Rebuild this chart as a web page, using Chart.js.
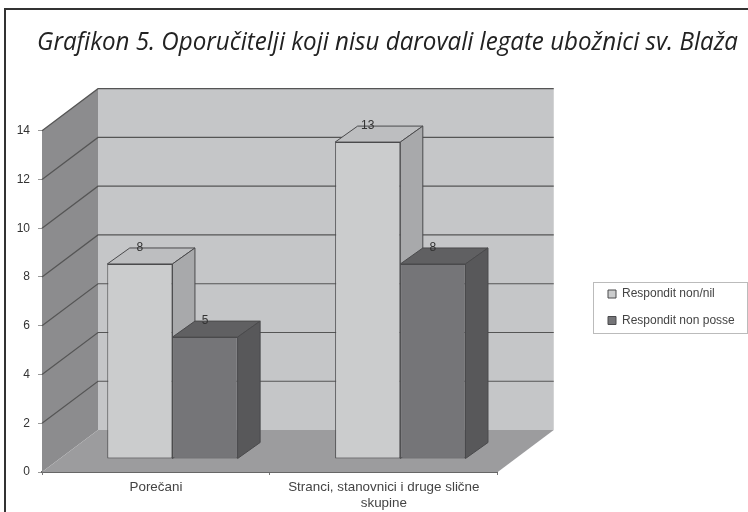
<!DOCTYPE html>
<html>
<head>
<meta charset="utf-8">
<title>Grafikon 5</title>
<script src="https://cdn.jsdelivr.net/npm/chart.js@4"></script>
<style>
  html, body { margin: 0; padding: 0; background: #fff; }
  #wrap { position: relative; width: 748px; height: 512px; overflow: hidden; }
  #frame { position: absolute; left: 4px; top: 8px; width: 760px; height: 520px; border-left: 2px solid #333; border-top: 2px solid #333; }
  canvas { position: absolute; left: 0; top: 0; }
</style>
</head>
<body>
<div id="wrap">
  <div id="frame"></div>
  <canvas id="myChart" width="748" height="512"></canvas>
</div>
<script>
const titleText = 'Grafikon 5. Oporučitelji koji nisu darovali legate ubožnici sv. Blaža';
const categories = ['Porečani', ['Stranci, stanovnici i druge slične', 'skupine']];
const respNonNil = [8, 13];
const respNonPosse = [5, 8];
const seriesNames = ['Respondit non/nil', 'Respondit non posse'];

// fake 3D box, all offsets in px
const wallDx = 56, wallDy = 42;
const barDx = 22.5, barDy = 16;
const shiftX = 16.5, shiftY = 13;
const sideColors = [
  { top: '#bdbec0', side: '#a8a9ab' },
  { top: '#606062', side: '#58585a' }
];

function poly(ctx, pts, fill, stroke, lw) {
  ctx.beginPath();
  pts.forEach((p, i) => i ? ctx.lineTo(p[0], p[1]) : ctx.moveTo(p[0], p[1]));
  ctx.closePath();
  ctx.fillStyle = fill;
  ctx.fill();
  if (stroke) {
    ctx.strokeStyle = stroke;
    ctx.lineWidth = lw || 1;
    ctx.stroke();
  }
}

const box3d = {
  id: 'box3d',
  afterLayout(chart) {
    // title and legend sit apart from the plot, not in their layout slots
    chart.titleBlock.left = 37;
    chart.titleBlock.right = 738;
    const lg = chart.legend;
    lg.left = 593.5;
    lg.right = 748;
    lg.top = 273.5;
    lg.bottom = 400;
  },
  beforeDraw(chart) {
    const ctx = chart.ctx;
    ctx.save();
    ctx.fillStyle = '#fff';
    ctx.strokeStyle = '#bbb';
    ctx.lineWidth = 1;
    ctx.fillRect(593.5, 282.5, 154, 51);
    ctx.strokeRect(593.5, 282.5, 154, 51);
    ctx.restore();
  },
  beforeDatasetsDraw(chart) {
    const ctx = chart.ctx;
    const a = chart.chartArea;
    const y = chart.scales.y;
    ctx.save();
    // back wall, left wall, floor
    poly(ctx, [[a.left + wallDx, a.top - wallDy], [a.right + wallDx, a.top - wallDy], [a.right + wallDx, a.bottom - wallDy], [a.left + wallDx, a.bottom - wallDy]], '#c5c6c8');
    poly(ctx, [[a.left, a.top], [a.left + wallDx, a.top - wallDy], [a.left + wallDx, a.bottom - wallDy], [a.left, a.bottom]], '#8c8c8e');
    poly(ctx, [[a.left, a.bottom], [a.right, a.bottom], [a.right + wallDx, a.bottom - wallDy], [a.left + wallDx, a.bottom - wallDy]], '#9c9c9e');
    ctx.strokeStyle = '#555';
    ctx.lineWidth = 1.2;
    y.ticks.forEach(t => {
      if (t.value === 0) return;
      const py = y.getPixelForValue(t.value);
      ctx.beginPath();
      ctx.moveTo(a.left, py);
      ctx.lineTo(a.left + wallDx, py - wallDy);
      ctx.lineTo(a.right + wallDx, py - wallDy);
      ctx.stroke();
    });
    ctx.restore();
    // everything in the bar layer stands forward of the axis plane
    ctx.save();
    ctx.translate(shiftX, -shiftY);
    // tops and sides go under all the fronts, first series first
    chart.data.datasets.forEach((ds, i) => {
      const c = sideColors[i];
      chart.getDatasetMeta(i).data.forEach(bar => {
        const l = bar.x - bar.width / 2, r = bar.x + bar.width / 2;
        poly(ctx, [[l, bar.y], [r, bar.y], [r + barDx, bar.y - barDy], [l + barDx, bar.y - barDy]], c.top, '#4a4a4c');
        poly(ctx, [[r, bar.y], [r + barDx, bar.y - barDy], [r + barDx, bar.base - barDy], [r, bar.base]], c.side, '#4a4a4c');
      });
    });
  },
  afterDatasetsDraw(chart) {
    const ctx = chart.ctx;
    ctx.font = '12px "Liberation Sans"';
    ctx.fillStyle = '#333';
    ctx.textAlign = 'center';
    ctx.textBaseline = 'middle';
    chart.data.datasets.forEach((ds, i) => {
      chart.getDatasetMeta(i).data.forEach((bar, j) => {
        ctx.fillText(ds.data[j], bar.x, bar.y - barDy);
      });
    });
    ctx.restore();
  }
};

const ctx = document.getElementById('myChart').getContext('2d');
const myChart = new Chart(ctx, {
  type: 'bar',
  plugins: [box3d],
  data: {
    labels: categories,
    datasets: [
      {
        label: seriesNames[0],
        data: respNonNil,
        clip: false,
        categoryPercentage: 0.572,
        barPercentage: 1,
        backgroundColor: '#cbcccd',
        borderColor: '#4a4a4c',
        borderWidth: 1,
        borderSkipped: false
      },
      {
        label: seriesNames[1],
        data: respNonPosse,
        clip: false,
        categoryPercentage: 0.572,
        barPercentage: 1,
        backgroundColor: '#757578',
        borderColor: '#4a4a4c',
        borderWidth: 1,
        borderSkipped: false
      }
    ]
  },
  options: {
    responsive: false,
    animation: false,
    layout: { padding: { left: 5, right: 99, top: 0, bottom: 0 } },
    plugins: {
      title: {
        display: true,
        text: titleText,
        align: 'start',
        color: '#222',
        font: { family: 'Open Sans', style: 'italic', size: 26, weight: 'normal', lineHeight: 1.2 },
        padding: { top: 27, bottom: 72.5 }
      },
      legend: {
        position: 'right',
        align: 'start',
        labels: {
          boxWidth: 8,
          boxHeight: 8,
          padding: 14.5,
          color: '#444',
          font: { family: 'Liberation Sans', size: 12, lineHeight: 1.2 }
        }
      },
      tooltip: { enabled: false }
    },
    scales: {
      x: {
        grid: { drawOnChartArea: false, color: '#777', tickLength: 3 },
        border: { color: '#666', width: 2 },
        ticks: { color: '#444', padding: 4, maxRotation: 0, font: { family: 'Liberation Sans', size: 13.4, lineHeight: 1.2 } },
        afterFit(scale) { scale.height = 40; }
      },
      y: {
        min: 0,
        max: 14,
        grid: { drawOnChartArea: false, color: '#999', tickLength: 4 },
        border: { color: '#777' },
        ticks: { stepSize: 2, color: '#333', padding: 8, font: { family: 'Liberation Sans', size: 12 } },
        afterFit(scale) { scale.width = 37; }
      }
    }
  }
});
</script>
</body>
</html>
